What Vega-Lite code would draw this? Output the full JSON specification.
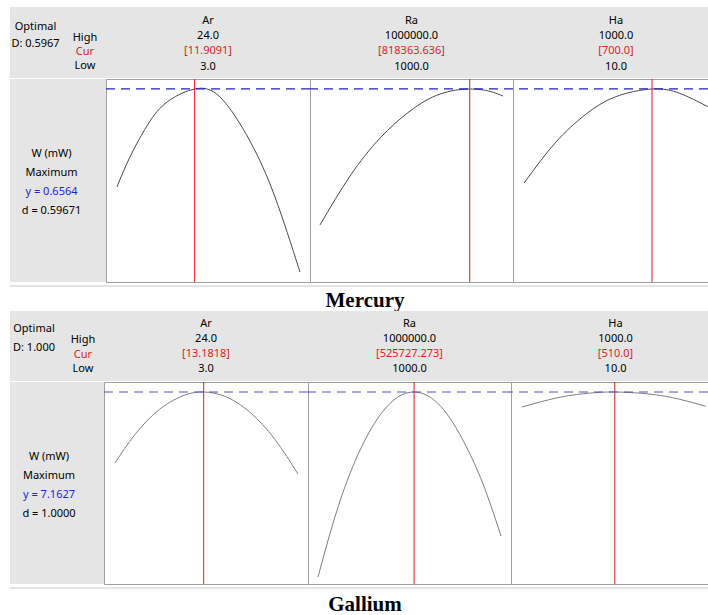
{
  "$schema": "https://vega.github.io/schema/vega-lite/v6.json",
  "padding": {"left": 10, "top": 7, "right": 0, "bottom": 0},
  "background": "white",
  "config": {
    "font": "Noto Sans",
    "text": {"font": "Noto Sans", "fontSize": 11},
    "view": {"stroke": null}
  },
  "datasets": {
    "curves": [
      {"section": "Mercury", "factor": "Ar", "x": 3.0, "w": 0.323},
      {"section": "Mercury", "factor": "Ar", "x": 4.49, "w": 0.425},
      {"section": "Mercury", "factor": "Ar", "x": 6.79, "w": 0.547},
      {"section": "Mercury", "factor": "Ar", "x": 9.08, "w": 0.619},
      {"section": "Mercury", "factor": "Ar", "x": 11.91, "w": 0.656},
      {"section": "Mercury", "factor": "Ar", "x": 14.82, "w": 0.629},
      {"section": "Mercury", "factor": "Ar", "x": 18.26, "w": 0.479},
      {"section": "Mercury", "factor": "Ar", "x": 21.13, "w": 0.289},
      {"section": "Mercury", "factor": "Ar", "x": 24.0, "w": 0.034},
      {"section": "Mercury", "factor": "Ra", "x": 1000, "w": 0.194},
      {"section": "Mercury", "factor": "Ra", "x": 164770, "w": 0.36},
      {"section": "Mercury", "factor": "Ra", "x": 328540, "w": 0.489},
      {"section": "Mercury", "factor": "Ra", "x": 492310, "w": 0.581},
      {"section": "Mercury", "factor": "Ra", "x": 656080, "w": 0.639},
      {"section": "Mercury", "factor": "Ra", "x": 818364, "w": 0.656},
      {"section": "Mercury", "factor": "Ra", "x": 929030, "w": 0.648},
      {"section": "Mercury", "factor": "Ra", "x": 1000000, "w": 0.632},
      {"section": "Mercury", "factor": "Ha", "x": 10, "w": 0.336},
      {"section": "Mercury", "factor": "Ha", "x": 177, "w": 0.472},
      {"section": "Mercury", "factor": "Ha", "x": 339, "w": 0.568},
      {"section": "Mercury", "factor": "Ha", "x": 501, "w": 0.629},
      {"section": "Mercury", "factor": "Ha", "x": 700, "w": 0.656},
      {"section": "Mercury", "factor": "Ha", "x": 851, "w": 0.641},
      {"section": "Mercury", "factor": "Ha", "x": 1000, "w": 0.596},
      {"section": "Gallium", "factor": "Ar", "x": 3.0, "w": 4.514},
      {"section": "Gallium", "factor": "Ar", "x": 5.3, "w": 5.581},
      {"section": "Gallium", "factor": "Ar", "x": 8.16, "w": 6.529},
      {"section": "Gallium", "factor": "Ar", "x": 11.03, "w": 7.051},
      {"section": "Gallium", "factor": "Ar", "x": 13.18, "w": 7.163},
      {"section": "Gallium", "factor": "Ar", "x": 15.62, "w": 6.999},
      {"section": "Gallium", "factor": "Ar", "x": 18.49, "w": 6.406},
      {"section": "Gallium", "factor": "Ar", "x": 21.36, "w": 5.391},
      {"section": "Gallium", "factor": "Ar", "x": 24.0, "w": 4.104},
      {"section": "Gallium", "factor": "Ra", "x": 1000, "w": 0.261},
      {"section": "Gallium", "factor": "Ra", "x": 121100, "w": 3.097},
      {"section": "Gallium", "factor": "Ra", "x": 257570, "w": 5.372},
      {"section": "Gallium", "factor": "Ra", "x": 394050, "w": 6.734},
      {"section": "Gallium", "factor": "Ra", "x": 525727, "w": 7.163},
      {"section": "Gallium", "factor": "Ra", "x": 667000, "w": 6.659},
      {"section": "Gallium", "factor": "Ra", "x": 803470, "w": 5.223},
      {"section": "Gallium", "factor": "Ra", "x": 912650, "w": 3.544},
      {"section": "Gallium", "factor": "Ra", "x": 1000000, "w": 1.791},
      {"section": "Gallium", "factor": "Ha", "x": 10, "w": 6.603},
      {"section": "Gallium", "factor": "Ha", "x": 215, "w": 6.969},
      {"section": "Gallium", "factor": "Ha", "x": 377, "w": 7.122},
      {"section": "Gallium", "factor": "Ha", "x": 510, "w": 7.163},
      {"section": "Gallium", "factor": "Ha", "x": 699, "w": 7.085},
      {"section": "Gallium", "factor": "Ha", "x": 860, "w": 6.891},
      {"section": "Gallium", "factor": "Ha", "x": 1000, "w": 6.629}
    ],
    "optimum": [
      {"section": "Mercury", "factor": "Ar", "cur": 11.9091},
      {"section": "Mercury", "factor": "Ra", "cur": 818363.636},
      {"section": "Mercury", "factor": "Ha", "cur": 700},
      {"section": "Gallium", "factor": "Ar", "cur": 13.1818},
      {"section": "Gallium", "factor": "Ra", "cur": 525727.273},
      {"section": "Gallium", "factor": "Ha", "cur": 510}
    ],
    "target": [
      {"section": "Mercury", "y": 0.6564},
      {"section": "Gallium", "y": 7.1627}
    ],
    "header": [
      {"section": "Mercury", "factor": "Ar", "line": "name", "text": "Ar"},
      {"section": "Mercury", "factor": "Ar", "line": "high", "text": "24.0"},
      {"section": "Mercury", "factor": "Ar", "line": "cur", "text": "[11.9091]"},
      {"section": "Mercury", "factor": "Ar", "line": "low", "text": "3.0"},
      {"section": "Mercury", "factor": "Ra", "line": "name", "text": "Ra"},
      {"section": "Mercury", "factor": "Ra", "line": "high", "text": "1000000.0"},
      {"section": "Mercury", "factor": "Ra", "line": "cur", "text": "[818363.636]"},
      {"section": "Mercury", "factor": "Ra", "line": "low", "text": "1000.0"},
      {"section": "Mercury", "factor": "Ha", "line": "name", "text": "Ha"},
      {"section": "Mercury", "factor": "Ha", "line": "high", "text": "1000.0"},
      {"section": "Mercury", "factor": "Ha", "line": "cur", "text": "[700.0]"},
      {"section": "Mercury", "factor": "Ha", "line": "low", "text": "10.0"},
      {"section": "Gallium", "factor": "Ar", "line": "name", "text": "Ar"},
      {"section": "Gallium", "factor": "Ar", "line": "high", "text": "24.0"},
      {"section": "Gallium", "factor": "Ar", "line": "cur", "text": "[13.1818]"},
      {"section": "Gallium", "factor": "Ar", "line": "low", "text": "3.0"},
      {"section": "Gallium", "factor": "Ra", "line": "name", "text": "Ra"},
      {"section": "Gallium", "factor": "Ra", "line": "high", "text": "1000000.0"},
      {"section": "Gallium", "factor": "Ra", "line": "cur", "text": "[525727.273]"},
      {"section": "Gallium", "factor": "Ra", "line": "low", "text": "1000.0"},
      {"section": "Gallium", "factor": "Ha", "line": "name", "text": "Ha"},
      {"section": "Gallium", "factor": "Ha", "line": "high", "text": "1000.0"},
      {"section": "Gallium", "factor": "Ha", "line": "cur", "text": "[510.0]"},
      {"section": "Gallium", "factor": "Ha", "line": "low", "text": "10.0"}
    ],
    "leftHead": [
      {"section": "Mercury", "col": "optimal", "line": "l1", "text": "Optimal"},
      {"section": "Mercury", "col": "optimal", "line": "l2", "text": "D: 0.5967"},
      {"section": "Mercury", "col": "levels", "line": "high", "text": "High"},
      {"section": "Mercury", "col": "levels", "line": "cur", "text": "Cur"},
      {"section": "Mercury", "col": "levels", "line": "low", "text": "Low"},
      {"section": "Gallium", "col": "optimal", "line": "l1", "text": "Optimal"},
      {"section": "Gallium", "col": "optimal", "line": "l2", "text": "D: 1.000"},
      {"section": "Gallium", "col": "levels", "line": "high", "text": "High"},
      {"section": "Gallium", "col": "levels", "line": "cur", "text": "Cur"},
      {"section": "Gallium", "col": "levels", "line": "low", "text": "Low"}
    ],
    "leftResp": [
      {"section": "Mercury", "line": "r1", "text": "W (mW)"},
      {"section": "Mercury", "line": "r2", "text": "Maximum"},
      {"section": "Mercury", "line": "r3", "text": "y = 0.6564"},
      {"section": "Mercury", "line": "r4", "text": "d = 0.59671"},
      {"section": "Gallium", "line": "r1", "text": "W (mW)"},
      {"section": "Gallium", "line": "r2", "text": "Maximum"},
      {"section": "Gallium", "line": "r3", "text": "y = 7.1627"},
      {"section": "Gallium", "line": "r4", "text": "d = 1.0000"}
    ]
  },
  "spacing": 0,
  "vconcat": [
    {
      "spacing": 0, "bounds": "flush",
      "hconcat": [
        {
          "width": 96, "height": 71,
          "view": {"fill": "#e5e5e5", "stroke": null},
          "data": {"name": "leftHead"},
          "transform": [{"filter": "datum.section === 'Mercury'"}],
          "layer": [
            {
              "transform": [{"filter": "datum.col === 'optimal'"}],
              "mark": {"type": "text", "baseline": "middle", "color": "#000000"},
              "encoding": {
                "x": {"field": "col", "type": "nominal", "scale": {"type": "point", "padding": 0, "domain": ["optimal", "levels"], "range": [25.5, 75]}, "axis": null},
                "y": {"field": "line", "type": "ordinal", "scale": {"type": "point", "padding": 0, "domain": ["l1", "l2"], "range": [20, 37]}, "axis": null},
                "text": {"field": "text"}
              }
            },
            {
              "transform": [{"filter": "datum.col === 'levels'"}],
              "mark": {"type": "text", "baseline": "middle"},
              "encoding": {
                "x": {"field": "col", "type": "nominal", "scale": {"type": "point", "padding": 0, "domain": ["optimal", "levels"], "range": [25.5, 75]}, "axis": null},
                "y": {"field": "line", "type": "ordinal", "scale": {"type": "point", "padding": 0, "domain": ["high", "cur", "low"], "range": [30.5, 58.5]}, "axis": null},
                "text": {"field": "text"},
                "color": {"condition": {"test": "datum.line === 'cur'", "value": "#dc1e1e"}, "value": "#000000"}
              }
            }
          ],
          "resolve": {"scale": {"y": "independent"}}
        },
        {
          "width": 204, "height": 71,
          "view": {"fill": "#e5e5e5", "stroke": null},
          "data": {"name": "header"},
          "transform": [{"filter": "datum.section === 'Mercury' && datum.factor === 'Ar'"}],
          "mark": {"type": "text", "baseline": "middle"},
          "encoding": {
            "y": {"field": "line", "type": "ordinal", "scale": {"type": "point", "padding": 0, "domain": ["name", "high", "cur", "low"], "range": [13.5, 59.5]}, "axis": null},
            "text": {"field": "text"},
            "color": {"condition": {"test": "datum.line === 'cur'", "value": "#dc1e1e"}, "value": "#000000"}
          }
        },
        {
          "width": 203, "height": 71,
          "view": {"fill": "#e5e5e5", "stroke": null},
          "data": {"name": "header"},
          "transform": [{"filter": "datum.section === 'Mercury' && datum.factor === 'Ra'"}],
          "mark": {"type": "text", "baseline": "middle"},
          "encoding": {
            "y": {"field": "line", "type": "ordinal", "scale": {"type": "point", "padding": 0, "domain": ["name", "high", "cur", "low"], "range": [13.5, 59.5]}, "axis": null},
            "text": {"field": "text"},
            "color": {"condition": {"test": "datum.line === 'cur'", "value": "#dc1e1e"}, "value": "#000000"}
          }
        },
        {
          "width": 195, "height": 71,
          "view": {"fill": "#e5e5e5", "stroke": null},
          "data": {"name": "header"},
          "transform": [{"filter": "datum.section === 'Mercury' && datum.factor === 'Ha'"}],
          "mark": {"type": "text", "baseline": "middle", "dx": 5.5},
          "encoding": {
            "y": {"field": "line", "type": "ordinal", "scale": {"type": "point", "padding": 0, "domain": ["name", "high", "cur", "low"], "range": [13.5, 59.5]}, "axis": null},
            "text": {"field": "text"},
            "color": {"condition": {"test": "datum.line === 'cur'", "value": "#dc1e1e"}, "value": "#000000"}
          }
        }
      ]
    },
    {
      "spacing": 0, "bounds": "flush",
      "hconcat": [
        {
          "width": 96, "height": 203,
          "view": {"fill": "#e5e5e5", "stroke": null},
          "data": {"name": "leftResp"},
          "transform": [{"filter": "datum.section === 'Mercury'"}],
          "mark": {"type": "text", "baseline": "middle", "dx": -6.5},
          "encoding": {
            "y": {"field": "line", "type": "ordinal", "scale": {"type": "point", "padding": 0, "domain": ["r1", "r2", "r3", "r4"], "range": [74.5, 132]}, "axis": null},
            "text": {"field": "text"},
            "color": {"condition": {"test": "datum.line === 'r3'", "value": "#2222dd"}, "value": "#000000"}
          }
        },
        {
          "width": 204, "height": 203,
          "view": {"fill": "white", "stroke": "#a0a0a0", "strokeWidth": 1},
          "layer": [
            {
              "data": {"name": "curves"},
              "transform": [{"filter": "datum.section === 'Mercury' && datum.factor === 'Ar'"}],
              "mark": {"type": "line", "interpolate": "natural", "color": "#4a4a4a", "strokeWidth": 1, "clip": true},
              "encoding": {
                "x": {"field": "x", "type": "quantitative", "scale": {"domain": [1.738, 25.15], "nice": false, "zero": false}, "axis": null},
                "y": {"field": "w", "type": "quantitative", "scale": {"domain": [0, 0.69], "nice": false, "zero": false}, "axis": null}
              }
            },
            {
              "data": {"name": "optimum"},
              "transform": [{"filter": "datum.section === 'Mercury' && datum.factor === 'Ar'"}],
              "mark": {"type": "rule", "color": "#e41a1a", "strokeWidth": 1, "clip": true},
              "encoding": {"x": {"field": "cur", "type": "quantitative", "axis": null}}
            },
            {
              "data": {"name": "target"},
              "transform": [{"filter": "datum.section === 'Mercury'"}],
              "mark": {"type": "rule", "color": "#2020c0", "strokeWidth": 1.2, "strokeDash": [9, 6], "clip": true},
              "encoding": {"y": {"field": "y", "type": "quantitative", "axis": null}}
            }
          ]
        },
        {
          "width": 203, "height": 203,
          "view": {"fill": "white", "stroke": "#a0a0a0", "strokeWidth": 1},
          "layer": [
            {
              "data": {"name": "curves"},
              "transform": [{"filter": "datum.section === 'Mercury' && datum.factor === 'Ra'"}],
              "mark": {"type": "line", "interpolate": "natural", "color": "#4a4a4a", "strokeWidth": 1, "clip": true},
              "encoding": {
                "x": {"field": "x", "type": "quantitative", "scale": {"domain": [-53590, 1054590], "nice": false, "zero": false}, "axis": null},
                "y": {"field": "w", "type": "quantitative", "scale": {"domain": [0, 0.69], "nice": false, "zero": false}, "axis": null}
              }
            },
            {
              "data": {"name": "optimum"},
              "transform": [{"filter": "datum.section === 'Mercury' && datum.factor === 'Ra'"}],
              "mark": {"type": "rule", "color": "#e41a1a", "strokeWidth": 1, "clip": true},
              "encoding": {"x": {"field": "cur", "type": "quantitative", "axis": null}}
            },
            {
              "data": {"name": "target"},
              "transform": [{"filter": "datum.section === 'Mercury'"}],
              "mark": {"type": "rule", "color": "#2020c0", "strokeWidth": 1.2, "strokeDash": [9, 6], "clip": true},
              "encoding": {"y": {"field": "y", "type": "quantitative", "axis": null}}
            }
          ]
        },
        {
          "width": 195, "height": 203,
          "view": {"fill": "white", "stroke": "#a0a0a0", "strokeWidth": 1},
          "layer": [
            {
              "data": {"name": "curves"},
              "transform": [{"filter": "datum.section === 'Mercury' && datum.factor === 'Ha'"}],
              "mark": {"type": "line", "interpolate": "natural", "color": "#4a4a4a", "strokeWidth": 1, "clip": true},
              "encoding": {
                "x": {"field": "x", "type": "quantitative", "scale": {"domain": [-49.3, 1001.8], "nice": false, "zero": false}, "axis": null},
                "y": {"field": "w", "type": "quantitative", "scale": {"domain": [0, 0.69], "nice": false, "zero": false}, "axis": null}
              }
            },
            {
              "data": {"name": "optimum"},
              "transform": [{"filter": "datum.section === 'Mercury' && datum.factor === 'Ha'"}],
              "mark": {"type": "rule", "color": "#e41a1a", "strokeWidth": 1, "clip": true},
              "encoding": {"x": {"field": "cur", "type": "quantitative", "axis": null}}
            },
            {
              "data": {"name": "target"},
              "transform": [{"filter": "datum.section === 'Mercury'"}],
              "mark": {"type": "rule", "color": "#2020c0", "strokeWidth": 1.2, "strokeDash": [9, 6], "clip": true},
              "encoding": {"y": {"field": "y", "type": "quantitative", "axis": null}}
            }
          ]
        }
      ]
    },
    {
      "width": 698, "height": 2,
      "view": {"fill": "#e5e5e5", "stroke": null},
      "data": {"values": [{"a": 1}]},
      "mark": {"type": "point", "opacity": 0},
      "encoding": {}
    },
    {
      "width": 698, "height": 22,
      "view": {"fill": "white", "stroke": null},
      "data": {"values": [{"label": "Mercury"}]},
      "mark": {"type": "text", "font": "Liberation Serif", "fontWeight": "bold", "fontSize": 21, "baseline": "middle", "dx": 6, "dy": 1},
      "encoding": {"text": {"field": "label"}}
    },
    {
      "spacing": 0, "bounds": "flush",
      "hconcat": [
        {
          "width": 94, "height": 70,
          "view": {"fill": "#e5e5e5", "stroke": null},
          "data": {"name": "leftHead"},
          "transform": [{"filter": "datum.section === 'Gallium'"}],
          "layer": [
            {
              "transform": [{"filter": "datum.col === 'optimal'"}],
              "mark": {"type": "text", "baseline": "middle", "color": "#000000"},
              "encoding": {
                "x": {"field": "col", "type": "nominal", "scale": {"type": "point", "padding": 0, "domain": ["optimal", "levels"], "range": [24, 73]}, "axis": null},
                "y": {"field": "line", "type": "ordinal", "scale": {"type": "point", "padding": 0, "domain": ["l1", "l2"], "range": [18, 36.5]}, "axis": null},
                "text": {"field": "text"}
              }
            },
            {
              "transform": [{"filter": "datum.col === 'levels'"}],
              "mark": {"type": "text", "baseline": "middle"},
              "encoding": {
                "x": {"field": "col", "type": "nominal", "scale": {"type": "point", "padding": 0, "domain": ["optimal", "levels"], "range": [24, 73]}, "axis": null},
                "y": {"field": "line", "type": "ordinal", "scale": {"type": "point", "padding": 0, "domain": ["high", "cur", "low"], "range": [29, 58]}, "axis": null},
                "text": {"field": "text"},
                "color": {"condition": {"test": "datum.line === 'cur'", "value": "#dc1e1e"}, "value": "#000000"}
              }
            }
          ],
          "resolve": {"scale": {"y": "independent"}}
        },
        {
          "width": 204, "height": 70,
          "view": {"fill": "#e5e5e5", "stroke": null},
          "data": {"name": "header"},
          "transform": [{"filter": "datum.section === 'Gallium' && datum.factor === 'Ar'"}],
          "mark": {"type": "text", "baseline": "middle"},
          "encoding": {
            "y": {"field": "line", "type": "ordinal", "scale": {"type": "point", "padding": 0, "domain": ["name", "high", "cur", "low"], "range": [12.5, 58]}, "axis": null},
            "text": {"field": "text"},
            "color": {"condition": {"test": "datum.line === 'cur'", "value": "#dc1e1e"}, "value": "#000000"}
          }
        },
        {
          "width": 203, "height": 70,
          "view": {"fill": "#e5e5e5", "stroke": null},
          "data": {"name": "header"},
          "transform": [{"filter": "datum.section === 'Gallium' && datum.factor === 'Ra'"}],
          "mark": {"type": "text", "baseline": "middle"},
          "encoding": {
            "y": {"field": "line", "type": "ordinal", "scale": {"type": "point", "padding": 0, "domain": ["name", "high", "cur", "low"], "range": [12.5, 58]}, "axis": null},
            "text": {"field": "text"},
            "color": {"condition": {"test": "datum.line === 'cur'", "value": "#dc1e1e"}, "value": "#000000"}
          }
        },
        {
          "width": 197, "height": 70,
          "view": {"fill": "#e5e5e5", "stroke": null},
          "data": {"name": "header"},
          "transform": [{"filter": "datum.section === 'Gallium' && datum.factor === 'Ha'"}],
          "mark": {"type": "text", "baseline": "middle", "dx": 6},
          "encoding": {
            "y": {"field": "line", "type": "ordinal", "scale": {"type": "point", "padding": 0, "domain": ["name", "high", "cur", "low"], "range": [12.5, 58]}, "axis": null},
            "text": {"field": "text"},
            "color": {"condition": {"test": "datum.line === 'cur'", "value": "#dc1e1e"}, "value": "#000000"}
          }
        }
      ]
    },
    {
      "spacing": 0, "bounds": "flush",
      "hconcat": [
        {
          "width": 94, "height": 202,
          "view": {"fill": "#e5e5e5", "stroke": null},
          "data": {"name": "leftResp"},
          "transform": [{"filter": "datum.section === 'Gallium'"}],
          "mark": {"type": "text", "baseline": "middle", "dx": -8},
          "encoding": {
            "y": {"field": "line", "type": "ordinal", "scale": {"type": "point", "padding": 0, "domain": ["r1", "r2", "r3", "r4"], "range": [75, 132]}, "axis": null},
            "text": {"field": "text"},
            "color": {"condition": {"test": "datum.line === 'r3'", "value": "#2222dd"}, "value": "#000000"}
          }
        },
        {
          "width": 204, "height": 202,
          "view": {"fill": "white", "stroke": "#a0a0a0", "strokeWidth": 1},
          "layer": [
            {
              "data": {"name": "curves"},
              "transform": [{"filter": "datum.section === 'Gallium' && datum.factor === 'Ar'"}],
              "mark": {"type": "line", "interpolate": "natural", "color": "#808080", "strokeWidth": 1, "clip": true},
              "encoding": {
                "x": {"field": "x", "type": "quantitative", "scale": {"domain": [1.738, 25.15], "nice": false, "zero": false}, "axis": null},
                "y": {"field": "w", "type": "quantitative", "scale": {"domain": [0, 7.536], "nice": false, "zero": false}, "axis": null}
              }
            },
            {
              "data": {"name": "optimum"},
              "transform": [{"filter": "datum.section === 'Gallium' && datum.factor === 'Ar'"}],
              "mark": {"type": "rule", "color": "#e41a1a", "strokeWidth": 1, "clip": true},
              "encoding": {"x": {"field": "cur", "type": "quantitative", "axis": null}}
            },
            {
              "data": {"name": "target"},
              "transform": [{"filter": "datum.section === 'Gallium'"}],
              "mark": {"type": "rule", "color": "#5050c8", "strokeWidth": 1.2, "strokeDash": [9, 6], "clip": true},
              "encoding": {"y": {"field": "y", "type": "quantitative", "axis": null}}
            }
          ]
        },
        {
          "width": 203, "height": 202,
          "view": {"fill": "white", "stroke": "#a0a0a0", "strokeWidth": 1},
          "layer": [
            {
              "data": {"name": "curves"},
              "transform": [{"filter": "datum.section === 'Gallium' && datum.factor === 'Ra'"}],
              "mark": {"type": "line", "interpolate": "natural", "color": "#808080", "strokeWidth": 1, "clip": true},
              "encoding": {
                "x": {"field": "x", "type": "quantitative", "scale": {"domain": [-53590, 1054590], "nice": false, "zero": false}, "axis": null},
                "y": {"field": "w", "type": "quantitative", "scale": {"domain": [0, 7.536], "nice": false, "zero": false}, "axis": null}
              }
            },
            {
              "data": {"name": "optimum"},
              "transform": [{"filter": "datum.section === 'Gallium' && datum.factor === 'Ra'"}],
              "mark": {"type": "rule", "color": "#e41a1a", "strokeWidth": 1, "clip": true},
              "encoding": {"x": {"field": "cur", "type": "quantitative", "axis": null}}
            },
            {
              "data": {"name": "target"},
              "transform": [{"filter": "datum.section === 'Gallium'"}],
              "mark": {"type": "rule", "color": "#5050c8", "strokeWidth": 1.2, "strokeDash": [9, 6], "clip": true},
              "encoding": {"y": {"field": "y", "type": "quantitative", "axis": null}}
            }
          ]
        },
        {
          "width": 197, "height": 202,
          "view": {"fill": "white", "stroke": "#a0a0a0", "strokeWidth": 1},
          "layer": [
            {
              "data": {"name": "curves"},
              "transform": [{"filter": "datum.section === 'Gallium' && datum.factor === 'Ha'"}],
              "mark": {"type": "line", "interpolate": "natural", "color": "#808080", "strokeWidth": 1, "clip": true},
              "encoding": {
                "x": {"field": "x", "type": "quantitative", "scale": {"domain": [-49.3, 1012.5], "nice": false, "zero": false}, "axis": null},
                "y": {"field": "w", "type": "quantitative", "scale": {"domain": [0, 7.536], "nice": false, "zero": false}, "axis": null}
              }
            },
            {
              "data": {"name": "optimum"},
              "transform": [{"filter": "datum.section === 'Gallium' && datum.factor === 'Ha'"}],
              "mark": {"type": "rule", "color": "#e41a1a", "strokeWidth": 1, "clip": true},
              "encoding": {"x": {"field": "cur", "type": "quantitative", "axis": null}}
            },
            {
              "data": {"name": "target"},
              "transform": [{"filter": "datum.section === 'Gallium'"}],
              "mark": {"type": "rule", "color": "#5050c8", "strokeWidth": 1.2, "strokeDash": [9, 6], "clip": true},
              "encoding": {"y": {"field": "y", "type": "quantitative", "axis": null}}
            }
          ]
        }
      ]
    },
    {
      "width": 698, "height": 2,
      "view": {"fill": "#e5e5e5", "stroke": null},
      "data": {"values": [{"a": 1}]},
      "mark": {"type": "point", "opacity": 0},
      "encoding": {}
    },
    {
      "width": 698, "height": 27,
      "view": {"fill": "white", "stroke": null},
      "data": {"values": [{"label": "Gallium"}]},
      "mark": {"type": "text", "font": "Liberation Serif", "fontWeight": "bold", "fontSize": 21, "baseline": "middle", "dx": 6, "dy": 0},
      "encoding": {"text": {"field": "label"}}
    }
  ]
}
